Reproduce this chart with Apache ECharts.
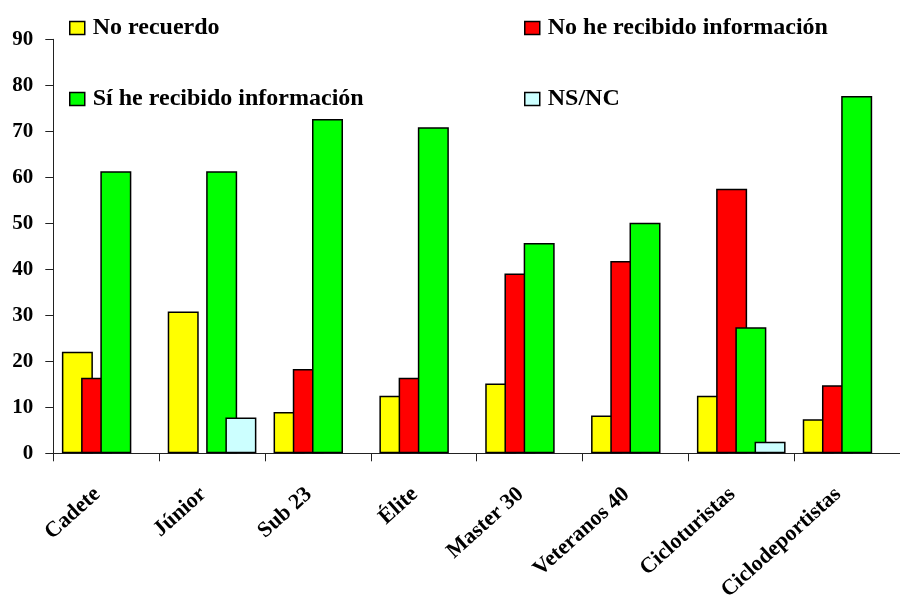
<!DOCTYPE html>
<html>
<head>
<meta charset="utf-8">
<script src="https://cdn.jsdelivr.net/npm/echarts@6/dist/echarts.min.js"></script>
<style>
  html, body { margin: 0; padding: 0; background: #fff; }
  #chart { width: 900px; height: 608px; }
</style>
</head>
<body>
<div id="chart"></div>
<script>
// Categories of riders
const categories = ['Cadete', 'Júnior', 'Sub 23', 'Élite', 'Master 30', 'Veteranos 40', 'Cicloturistas', 'Ciclodeportistas'];

// Percentages per answer (null = no bar)
const noRecuerdo     = [22.1, 30.8, 9.0, 12.5, 15.2, 8.2, 12.5, 7.4];
const noRecibido     = [16.4, null, 18.3, 16.4, 39.1, 41.8, 57.5, 14.8];
const siRecibido     = [61.3, 61.3, 72.7, 70.9, 45.7, 50.1, 27.4, 77.7];
const nsnc           = [null, 7.8, null, null, null, null, 2.5, null];

const seriesNames = ['No recuerdo', 'No he recibido información', 'Sí he recibido información', 'NS/NC'];
const seriesData  = [noRecuerdo, noRecibido, siRecibido, nsnc];
const seriesColors = ['#FFFF00', '#FF0000', '#00FF00', '#CCFFFF'];

// Y axis ticks
const yMin = 0, yMax = 90, yStep = 10;

const FONT = "'Liberation Serif', 'Times New Roman', serif";

const chart = echarts.init(document.getElementById('chart'), null, { renderer: 'canvas' });

const legendPos = [
  { left: 69, top: 16 },
  { left: 524, top: 16 },
  { left: 69, top: 87 },
  { left: 524, top: 87 }
];

const option = {
  backgroundColor: '#ffffff',
  animation: false,
  legend: seriesNames.map((name, i) => ({
    data: [name],
    left: legendPos[i].left,
    top: legendPos[i].top,
    padding: 0,
    icon: 'rect',
    itemWidth: 15,
    itemHeight: 13,
    selectedMode: false,
    itemStyle: { borderColor: '#000', borderWidth: 1.5 },
    textStyle: {
      fontFamily: FONT,
      fontWeight: 'bold',
      fontSize: 24,
      color: '#000',
      padding: [0, 0, 0, 3]
    }
  })),
  grid: {
    left: 53.3,
    top: 39.3,
    width: 859,
    bottom: 154.7,
    containLabel: false
  },
  xAxis: {
    type: 'category',
    data: categories,
    axisLine: { lineStyle: { color: '#222', width: 1 } },
    axisTick: { show: true, length: 8, lineStyle: { color: '#222' } },
    axisLabel: {
      interval: 0,
      rotate: 42,
      margin: 30,
      padding: [0, 12, 0, 0],
      fontFamily: FONT,
      fontWeight: 'bold',
      fontSize: 22,
      color: '#000'
    },
    splitLine: { show: false }
  },
  yAxis: {
    type: 'value',
    min: yMin,
    max: yMax,
    interval: yStep,
    axisLine: { show: true, lineStyle: { color: '#222', width: 1 } },
    axisTick: { show: true, length: 8, lineStyle: { color: '#222' } },
    axisLabel: {
      margin: 20,
      fontFamily: FONT,
      fontWeight: 'bold',
      fontSize: 21,
      color: '#000'
    },
    splitLine: { show: false }
  },
  series: seriesNames.map((name, i) => ({
    name: name,
    type: 'bar',
    data: seriesData[i],
    barWidth: 31,
    barGap: '-38%',
    itemStyle: {
      color: seriesColors[i],
      borderColor: '#000',
      borderWidth: 1.5
    },
    emphasis: { disabled: true }
  }))
};

chart.setOption(option);
</script>
</body>
</html>
